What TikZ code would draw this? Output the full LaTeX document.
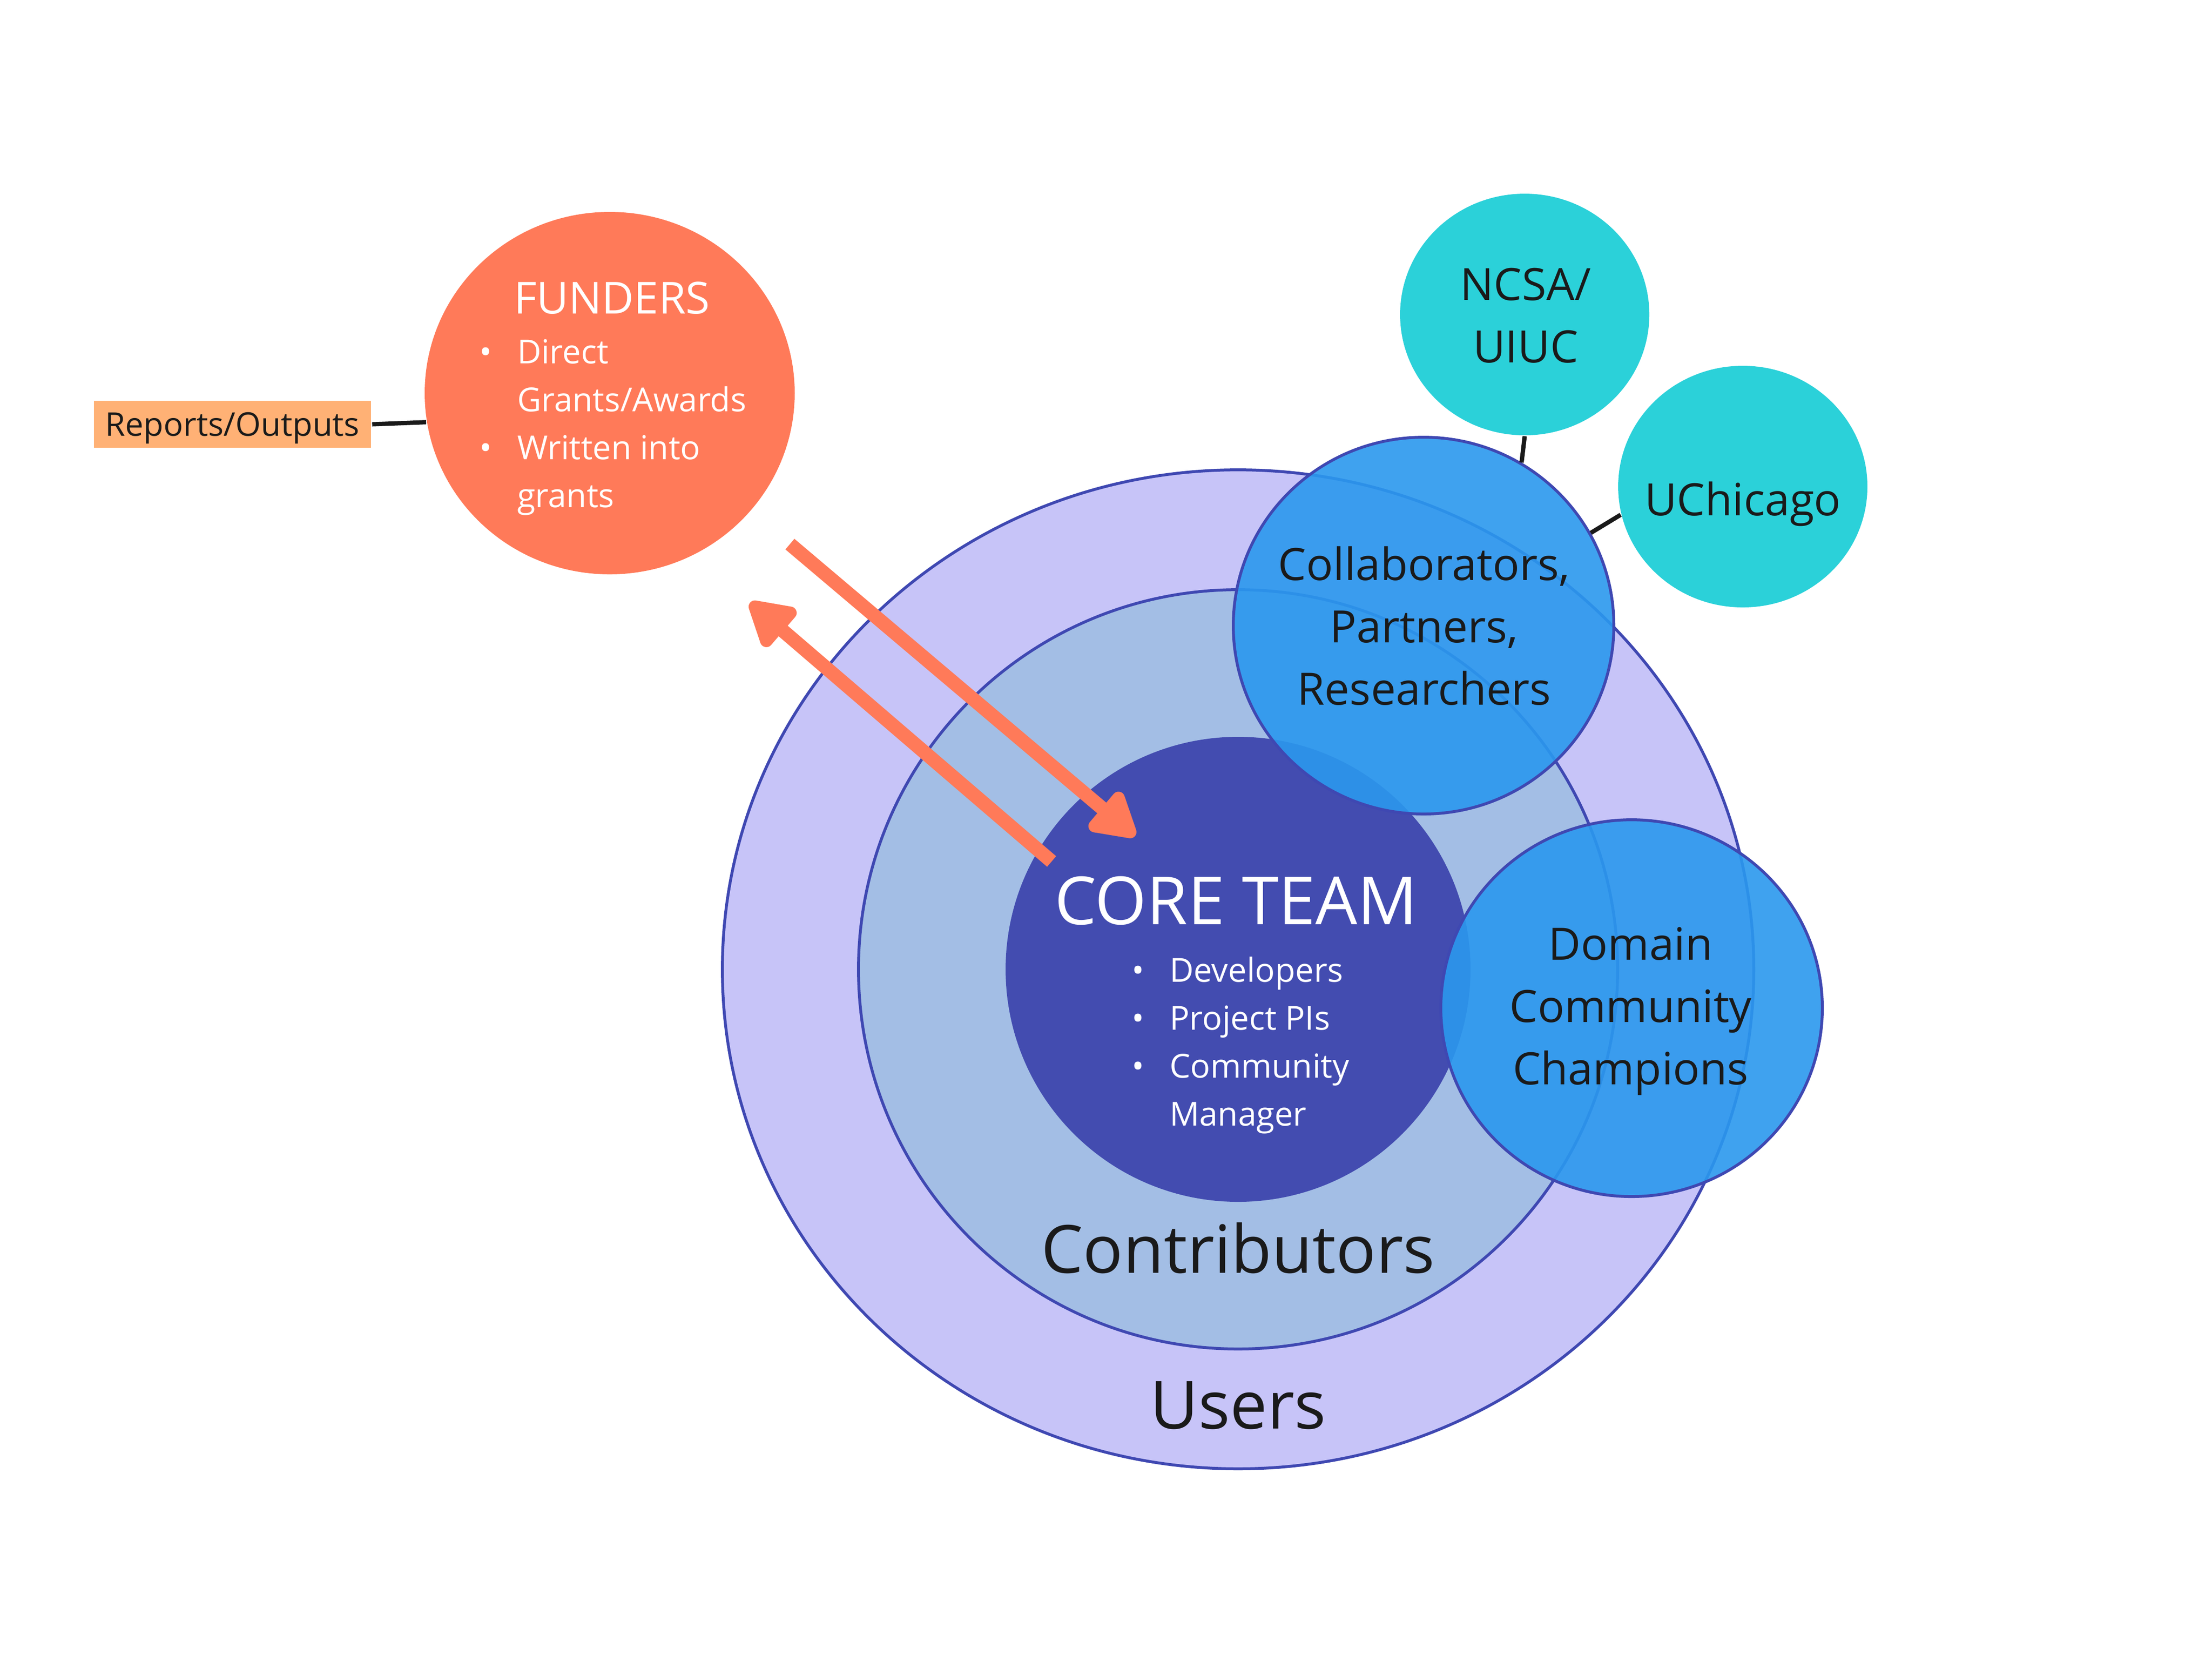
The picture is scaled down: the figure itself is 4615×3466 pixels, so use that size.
\documentclass[tikz,border=0pt]{standalone}
\usepackage{fontspec}
\setmainfont{Open Sans}
\usetikzlibrary{arrows.meta,shapes.geometric}
\definecolor{usersfill}{HTML}{C7C4F8}
\definecolor{contribfill}{HTML}{A3BEE5}
\definecolor{corefill}{HTML}{434CB0}
\definecolor{ringline}{HTML}{3F48B2}
\definecolor{bluefill}{HTML}{2B98EE}
\definecolor{tealfill}{HTML}{2BD1D9}
\definecolor{coral}{HTML}{FF7A59}
\definecolor{peach}{HTML}{FFB175}
\definecolor{ink}{HTML}{1A1A1A}
\begin{document}
\begin{tikzpicture}[x=0.1pt,y=-0.1pt,
  ring/.style={ellipse, draw=ringline, line width=0.6pt, inner sep=0pt},
  blob/.style={ellipse, inner sep=0pt},
  glass/.style={ellipse, inner sep=0pt, draw=ringline, line width=0.6pt, fill=bluefill, fill opacity=0.9},
  bigtxt/.style={font=\fontsize{13.85}{16}\selectfont, inner sep=0pt},
  midtxt/.style={font=\fontsize{9.3}{13}\selectfont, text=ink, align=center, inner sep=0pt},
  smalltxt/.style={font=\fontsize{6.9}{10}\selectfont, text=white, align=left, inner sep=0pt},
  tie/.style={draw=ink, line width=0.9pt},
  flow/.style={draw=coral, line width=2.9pt, -{Triangle[length=10.5pt, width=11.5pt, round]}}
]
\useasboundingbox[fill=white] (0,0) rectangle (4615,3466);
% rings
\node[ring, fill=usersfill, minimum width=215.2pt, minimum height=208.4pt] (users) at (2583,2022) {};
\node[ring, fill=contribfill, minimum width=158.4pt, minimum height=158.4pt] (contrib) at (2583,2022) {};
\node[blob, fill=corefill, minimum width=97pt, minimum height=97pt] (core) at (2583,2022) {};
% funders and reports
\node[blob, fill=coral, minimum width=77.2pt, minimum height=75.6pt] (funders) at (1272,820) {};
\node[fill=peach, minimum width=57.9pt, minimum height=9.8pt, inner sep=0pt, text depth=0pt,
      font=\fontsize{6.8}{8}\selectfont, text=ink] (reports) at (485,885) {Reports/Outputs};
\draw[tie] (reports.east) -- (funders.189);
% partner circles
\node[blob, fill=tealfill, minimum width=52pt, minimum height=50.4pt] (ncsa) at (3181,656) {};
\node[blob, fill=tealfill, minimum width=52pt, minimum height=50.4pt] (uchicago) at (3636,1015) {};
% texts on rings
\node[bigtxt, text=white, anchor=base] (coretitle) at (2579,1928) {CORE TEAM};
\node[bigtxt, text=ink, anchor=base] (contribtxt) at (2583,2655) {Contributors};
\node[bigtxt, text=ink, anchor=base] (userstxt) at (2583,2980) {Users};
\node[smalltxt, anchor=base west] (corelist) at (2438,2348)
  {\llap{•\hspace{5.3pt}}Developers\\ \llap{•\hspace{5.3pt}}Project PIs\\ \llap{•\hspace{5.3pt}}Community\\ Manager};
\node[font=\fontsize{9.2}{11}\selectfont, text=white, inner sep=0pt, anchor=base west] (funderstitle) at (1070,654) {FUNDERS};
\node[smalltxt, anchor=base west] (funderslist) at (1077,1058)
  {\llap{•\hspace{5.3pt}}Direct\\ Grants/Awards\\ \llap{•\hspace{5.3pt}}Written into\\ grants};
% arrows
\coordinate (a1s) at (1648,1135);
\coordinate (a1e) at (2368,1744);
\coordinate (a2s) at (2194,1797);
\coordinate (a2e) at (1565,1257);
\draw[flow] (a1s) -- (a1e);
\draw[flow] (a2s) -- (a2e);
% translucent blue circles
\node[glass, minimum width=79.4pt, minimum height=78.6pt] (collab) at (2970,1305) {};
\node[glass, minimum width=79.6pt, minimum height=78.6pt] (domain) at (3404,2103) {};
\draw[tie] (ncsa.south) -- (collab.59);
\draw[tie] (uchicago.193) -- (collab.29);
\node[midtxt, anchor=base] (collabtxt) at (2971,1470) {Collaborators,\\ Partners,\\ Researchers};
\node[midtxt, anchor=base] (domaintxt) at (3402,2262) {Domain\\ Community\\ Champions};
\node[midtxt, anchor=base] (ncsatxt) at (3183,756) {NCSA/\\ UIUC};
\node[midtxt, anchor=base] (uchicagotxt) at (3636,1075) {UChicago};
\end{tikzpicture}
\end{document}
